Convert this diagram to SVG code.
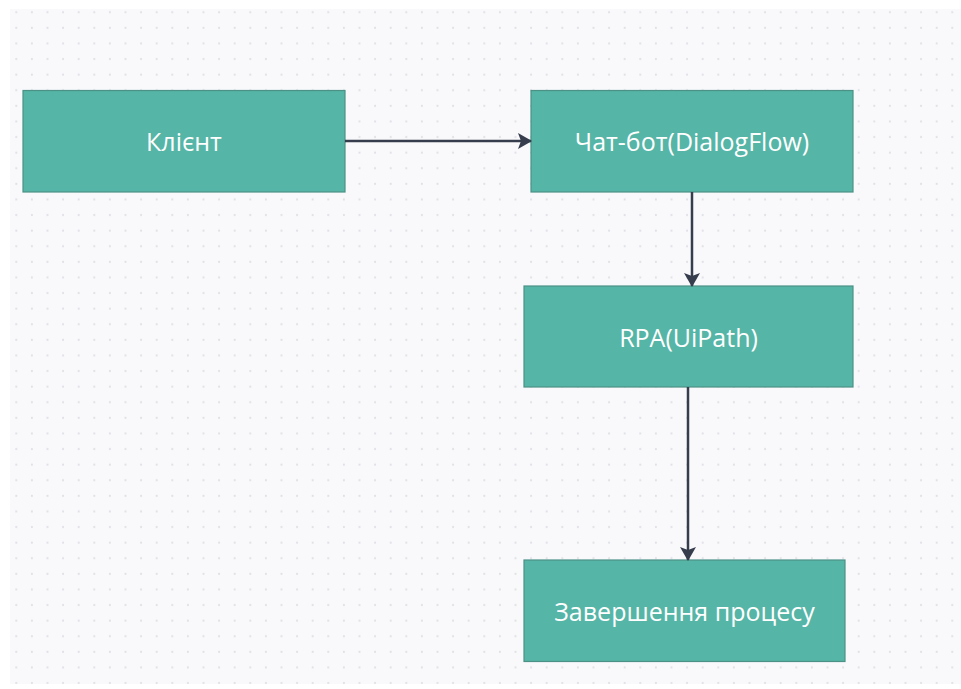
<svg xmlns="http://www.w3.org/2000/svg" width="961" height="689" viewBox="0 0 961 689">
<defs>
<pattern id="dots" x="8.5" y="4.5" width="15.6" height="15.6" patternUnits="userSpaceOnUse">
<circle cx="7.8" cy="7.8" r="1.1" fill="#e0e1e6"/>
</pattern>
<marker id="ah" viewBox="0 0 14 16" refX="13" refY="8" markerWidth="14" markerHeight="16" markerUnits="userSpaceOnUse" orient="auto">
<path d="M0,0 L14,8 L0,16 L3,8 Z" fill="#363d4d"/>
</marker>
<style>
.node rect { fill: #55b5a6; stroke: #4b9186; stroke-width: 1.2; }
.node text { fill: #ffffff; font-family: "Open Sans", "Noto Sans", sans-serif; font-size: 25px; text-anchor: middle; dominant-baseline: central; }
.conn path { stroke: #363d4d; stroke-width: 2.5; fill: none; marker-end: url(#ah); }
</style>
</defs>
<rect width="961" height="689" fill="#ffffff"/>
<rect x="10" y="9" width="951" height="675" fill="#f9f9fb"/>
<rect x="10" y="9" width="951" height="675" fill="url(#dots)"/>
<g id="client" class="node">
<rect x="23" y="90.5" width="322" height="101.5"/>
<text x="184" y="141">Клієнт</text>
</g>
<g id="chatbot" class="node">
<rect x="531" y="90.5" width="322" height="101.5"/>
<text x="692" y="141">Чат-бот(DialogFlow)</text>
</g>
<g id="rpa" class="node">
<rect x="524" y="286" width="329" height="101"/>
<text x="688.5" y="337">RPA(UiPath)</text>
</g>
<g id="finish" class="node">
<rect x="524" y="560" width="321" height="101.5"/>
<text x="684.5" y="611">Завершення процесу</text>
</g>
<g id="connectors" class="conn">
<path d="M345,141 L531,141"/>
<path d="M692,192 L692,286"/>
<path d="M688,387 L688,560"/>
</g>
</svg>
